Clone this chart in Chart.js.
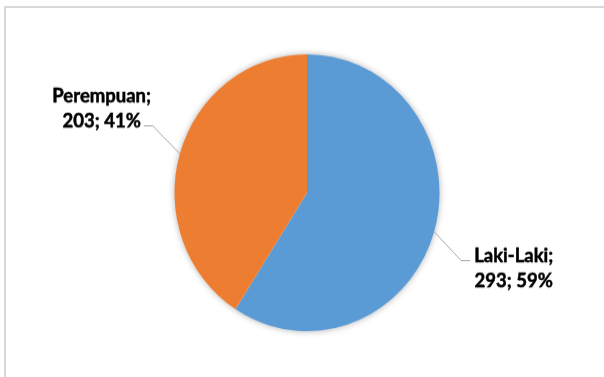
<!DOCTYPE html>
<html>
<head>
<meta charset="utf-8">
<script src="https://cdn.jsdelivr.net/npm/chart.js@4.4.1/dist/chart.umd.min.js"></script>
<style>
  html, body { margin: 0; padding: 0; background: #fff; }
  body { width: 604px; height: 377px; overflow: hidden; position: relative; }
  /* bingkai abu-abu tipis (kiri & atas) */
  #bingkai { position: absolute; left: 4px; top: 6px; width: 700px; height: 400px;
             border-left: 2px solid #d9d9d9; border-top: 2px solid #d9d9d9; }
  /* gambar asli sedikit melar vertikal */
  #wadah { position: absolute; left: 0; top: 0; width: 604px; height: 361px;
           transform: scaleY(1.0445); transform-origin: 0 0; }
</style>
</head>
<body>
<div id="bingkai"></div>
<div id="wadah"><canvas id="grafikGender"></canvas></div>
<script>
// --- Data ---
const kategori = ['Laki-Laki', 'Perempuan'];
const jumlah = [293, 203];

const total = jumlah.reduce((a, b) => a + b, 0);

// bayangan lembut di bawah lingkaran pie
const bayanganPie = {
  id: 'bayanganPie',
  beforeDatasetsDraw(chart) {
    const arc = chart.getDatasetMeta(0).data[0];
    if (!arc) return;
    const ctx = chart.ctx;
    ctx.save();
    ctx.shadowColor = 'rgba(0,0,0,0.35)';
    ctx.shadowBlur = 7;
    ctx.fillStyle = '#fff';
    ctx.beginPath();
    ctx.arc(arc.x, arc.y, arc.outerRadius - 0.5, 0, Math.PI * 2);
    ctx.fill();
    ctx.restore();
  }
};

// label data + garis penunjuk ala Excel
const labelPie = {
  id: 'labelPie',
  afterDatasetsDraw(chart) {
    const ctx = chart.ctx;
    const meta = chart.getDatasetMeta(0);
    ctx.save();
    ctx.font = 'bold 18.5px Lato';
    ctx.textAlign = 'center';
    ctx.textBaseline = 'alphabetic';
    meta.data.forEach((arc, i) => {
      const tengah = (arc.startAngle + arc.endAngle) / 2;
      const dx = Math.cos(tengah), dy = Math.sin(tengah);
      const x0 = arc.x + dx * arc.outerRadius;
      const y0 = arc.y + dy * arc.outerRadius;
      const sx = dx >= 0 ? 1 : -1, sy = dy >= 0 ? 1 : -1;
      const x1 = x0 + sx * 27, y1 = Math.round(y0 + sy * 27) + 0.5;
      const x2 = x1 + sx * 9;

      ctx.strokeStyle = '#a6a6a6';
      ctx.lineWidth = 1;
      ctx.beginPath();
      ctx.moveTo(x0, y0);
      ctx.lineTo(x1, y1);
      ctx.lineTo(x2, y1);
      ctx.stroke();

      const persen = Math.round(jumlah[i] / total * 100);
      const baris = [kategori[i] + ';', jumlah[i] + '; ' + persen + '%'];
      const jarak = 24;
      ctx.fillStyle = '#000';
      ctx.strokeStyle = '#000';
      ctx.lineWidth = 0.5;
      let cx, yAwal;
      if (sx > 0) {
        cx = x2 + 4 + ctx.measureText(baris[0]).width / 2;
        yAwal = y1 + 1;
      } else {
        cx = x2 - 3 - ctx.measureText(baris[baris.length - 1]).width / 2;
        yAwal = y1 + 1 - jarak * (baris.length - 1);
      }
      baris.forEach((teks, k) => {
        ctx.fillText(teks, cx, yAwal + k * jarak);
        ctx.strokeText(teks, cx, yAwal + k * jarak);
      });
    });
    ctx.restore();
  }
};

new Chart(document.getElementById('grafikGender'), {
  type: 'pie',
  data: {
    labels: kategori,
    datasets: [{
      data: jumlah,
      backgroundColor: ['#5B9BD5', '#ED7D31'],
      borderWidth: 0,
      hoverOffset: 0
    }]
  },
  options: {
    responsive: true,
    maintainAspectRatio: false,
    animation: false,
    events: [],
    layout: { padding: { left: 10, right: 0, top: 52, bottom: 44 } },
    plugins: {
      legend: { display: false },
      tooltip: { enabled: false }
    }
  },
  plugins: [bayanganPie, labelPie]
});
</script>
</body>
</html>
